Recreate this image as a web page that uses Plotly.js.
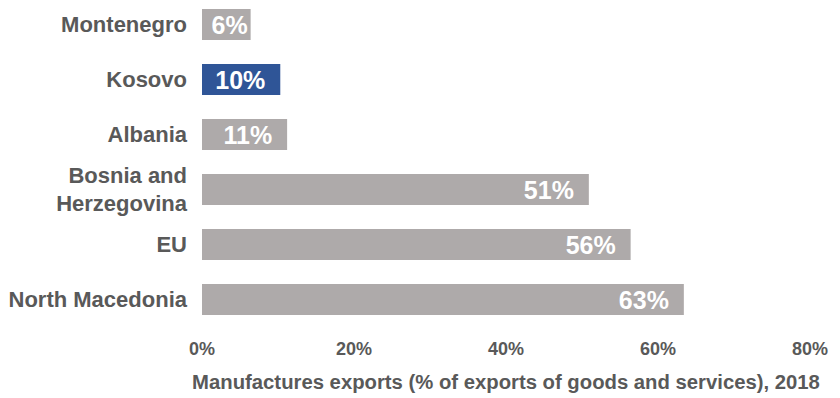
<!DOCTYPE html>
<html>
<head>
<meta charset="utf-8">
<script src="https://cdn.plot.ly/plotly-3.0.1.min.js"></script>
<style>html,body{margin:0;padding:0;background:#fff;}#chart{width:840px;height:398px;}</style>
</head>
<body>
<div id="chart"></div>
<script>
// Data
const countries = ["Montenegro", "Kosovo", "Albania", "Bosnia and<br>Herzegovina", "EU", "North Macedonia"];
const manufacturesShare = [6.4, 10.3, 11.2, 50.9, 56.4, 63.4];
const highlighted = "Kosovo";
const xTickValues = [0, 20, 40, 60, 80];
const xTickLabels = ["0%", "20%", "40%", "60%", "80%"];
const xTitle = "Manufactures exports (% of exports of goods and services), 2018";

const GRAY = "#AEAAAA", BLUE = "#2F5597", TEXT = "#595959";
const FONT = "'Liberation Sans', Arial, sans-serif";

const barColors = countries.map(c => c === highlighted ? BLUE : GRAY);
const barText = manufacturesShare.map(v => Math.round(v) + "%" + (v > 8 ? "\u00a0\u2009" : ""));

const trace = {
  type: "bar",
  orientation: "h",
  y: countries,
  x: manufacturesShare,
  marker: {color: barColors},
  text: barText,
  textposition: "inside",
  insidetextanchor: "end",
  constraintext: "none",
  textfont: {family: FONT, size: 25, color: "#ffffff", weight: "bold"},
  hoverinfo: "skip"
};

const layout = {
  width: 840,
  height: 398,
  margin: {l: 202, r: 30, t: 0, b: 68},
  paper_bgcolor: "#ffffff",
  plot_bgcolor: "#ffffff",
  bargap: 0.436,
  showlegend: false,
  font: {family: FONT, color: TEXT},
  xaxis: {
    range: [0, 80],
    tickvals: xTickValues,
    ticktext: xTickLabels,
    showgrid: false,
    zeroline: false,
    showline: false,
    ticks: "",
    ticklabelstandoff: 6,
    tickfont: {family: FONT, size: 18, color: TEXT, weight: "bold"},
    title: {text: xTitle, standoff: 16, font: {family: FONT, size: 20.3, color: TEXT, weight: "bold"}},
    fixedrange: true
  },
  yaxis: {
    type: "category",
    categoryorder: "array",
    categoryarray: countries,
    range: [5.5545, -0.4455],
    showgrid: false,
    zeroline: false,
    showline: false,
    ticks: "",
    ticklabelstandoff: 14,
    tickfont: {family: FONT, size: 22, color: TEXT, weight: "bold"},
    fixedrange: true
  }
};

Plotly.newPlot("chart", [trace], layout, {displayModeBar: false, staticPlot: true});
</script>
</body>
</html>
